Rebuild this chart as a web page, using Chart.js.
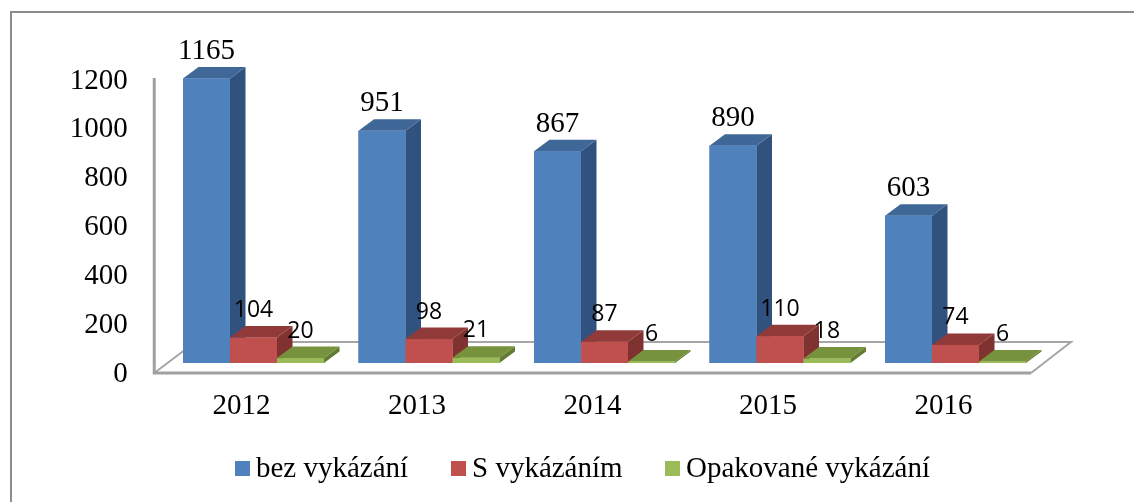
<!DOCTYPE html>
<html lang="cs">
<head>
<meta charset="utf-8">
<style>html,body{margin:0;padding:0;background:#fff}#w{width:1134px;height:502px;position:relative}</style>
<script src="https://cdn.jsdelivr.net/npm/chart.js@4/dist/chart.umd.js"></script>
</head>
<body>
<div id="w"><canvas id="c" width="1134" height="502"></canvas></div>
<script>
const categories = ['2012','2013','2014','2015','2016'];
const bezVykazani = [1165,951,867,890,603];
const sVykazanim = [104,98,87,110,74];
const opakovane = [20,21,6,18,6];
const seriesNames = ['bez vykázání','S vykázáním','Opakované vykázání'];
const yTicks = [0,200,400,600,800,1000,1200];
const frontColors = ['#4F81BD','#C0504D','#9BBB59'];
const topColors = ['#3F6797','#903B39','#76923C'];
const sideColors = ['#31527E','#7F3230','#637B32'];
const labelFonts = ['29px "Liberation Serif"','23px "Open Sans"','23px "Open Sans"'];
const legendX = [235,451,665];

const serif = '"Liberation Serif","Times New Roman",serif';
const DX = 15.5, DY = -11.5;

const frame3d = {
  id:'frame3d',
  beforeDatasetsDraw(chart){
    const {ctx,chartArea:a} = chart;
    ctx.save();
    ctx.strokeStyle='#8C8C8C'; ctx.lineWidth=2;
    ctx.beginPath(); ctx.moveTo(11,502); ctx.lineTo(11,12); ctx.lineTo(1134,12); ctx.stroke();
    const L=a.left-11.5, B=a.bottom+10;
    ctx.strokeStyle='#A6A6A6'; ctx.lineWidth=2; ctx.lineJoin='miter';
    ctx.beginPath();
    ctx.moveTo(1031,B); ctx.lineTo(1071,B-31); ctx.lineTo(L+41,B-31); ctx.lineTo(L,B);
    ctx.stroke();
    ctx.strokeStyle='#A0A0A0'; ctx.lineWidth=3;
    ctx.beginPath();
    ctx.moveTo(L,a.top+8); ctx.lineTo(L,B); ctx.lineTo(1031,B);
    ctx.stroke();
    ctx.restore();
  },
  afterDatasetsDraw(chart){
    const {ctx} = chart;
    ctx.save();
    chart.data.datasets.forEach((ds,i)=>{
      chart.getDatasetMeta(i).data.forEach(bar=>{
        const p=bar.getProps(['x','y','base','width'],true);
        const l=p.x-p.width/2, r=p.x+p.width/2;
        ctx.fillStyle=sideColors[i];
        ctx.beginPath(); ctx.moveTo(r,p.y); ctx.lineTo(r+DX,p.y+DY); ctx.lineTo(r+DX,p.base+DY); ctx.lineTo(r,p.base); ctx.closePath(); ctx.fill();
        ctx.fillStyle=topColors[i];
        ctx.beginPath(); ctx.moveTo(l,p.y); ctx.lineTo(l+DX,p.y+DY); ctx.lineTo(r+DX,p.y+DY); ctx.lineTo(r,p.y); ctx.closePath(); ctx.fill();
      });
    });
    // redraw fronts in series order so neighbouring side faces sit behind them
    chart.data.datasets.forEach((ds,i)=>{
      chart.getDatasetMeta(i).data.forEach(bar=>{
        const p=bar.getProps(['x','y','base','width'],true);
        ctx.fillStyle=frontColors[i];
        ctx.fillRect(p.x-p.width/2,p.y,p.width,p.base-p.y);
      });
    });
    ctx.textAlign='center'; ctx.textBaseline='middle'; ctx.fillStyle='#000';
    chart.data.datasets.forEach((ds,i)=>{
      ctx.font=labelFonts[i];
      chart.getDatasetMeta(i).data.forEach((bar,j)=>{
        const p=bar.getProps(['x','y'],true);
        ctx.fillText(String(ds.data[j]),p.x,p.y-27);
      });
    });
    ctx.textAlign='left';
    ctx.font='29px '+serif;
    chart.data.datasets.forEach((ds,i)=>{
      ctx.fillStyle=frontColors[i];
      ctx.fillRect(legendX[i],461,15,15);
      ctx.fillStyle='#000';
      ctx.fillText(ds.label,legendX[i]+21,469);
    });
    ctx.restore();
  }
};

const seriesValues=[bezVykazani,sVykazanim,opakovane];
new Chart(document.getElementById('c'),{
  type:'bar',
  data:{labels:categories,datasets:seriesNames.map((n,i)=>({label:n,data:seriesValues[i],backgroundColor:frontColors[i],borderWidth:0}))},
  plugins:[frame3d],
  options:{
    responsive:false,animation:false,
    layout:{padding:{left:0,right:90.75,top:70,bottom:79}},
    plugins:{legend:{display:false},tooltip:{enabled:false}},
    datasets:{bar:{barPercentage:1,categoryPercentage:0.8034}},
    scales:{
      x:{grid:{display:false,drawTicks:false},border:{display:false},
         afterFit(s){s.height=60},
         ticks:{color:'#000',font:{family:serif,size:29},padding:26,labelOffset:-12,maxRotation:0}},
      y:{min:0,max:1200,grid:{display:false,drawTicks:false},border:{display:false},
         afterFit(s){s.width=165.75},
         afterBuildTicks(s){s.ticks=yTicks.map(v=>({value:v}))},
         ticks:{color:'#000',font:{family:serif,size:29},padding:38,labelOffset:11,callback:v=>String(v)}}
    }
  }
});
</script>
</body>
</html>
